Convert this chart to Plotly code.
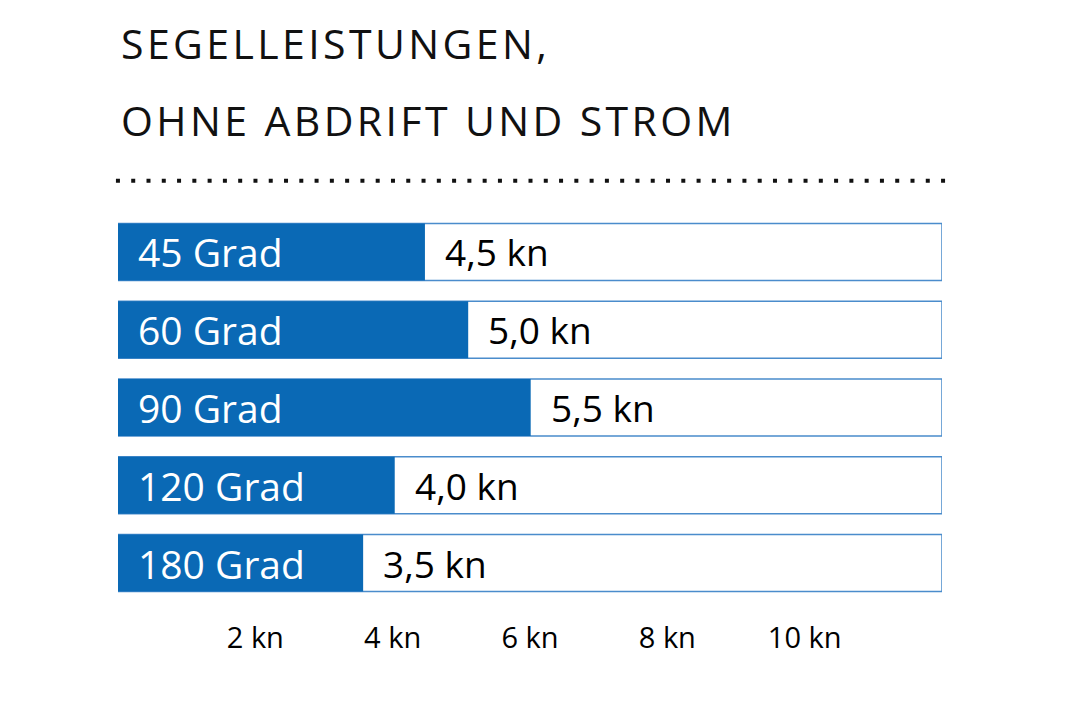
import plotly.graph_objects as go

# Daten aus der Grafik
kurse = ["45 Grad", "60 Grad", "90 Grad", "120 Grad", "180 Grad"]
balken_kn = [4.47, 5.10, 6.01, 4.03, 3.57]   # Balkenlänge wie gezeichnet
werte_text = ["4,5 kn", "5,0 kn", "5,5 kn", "4,0 kn", "3,5 kn"]
skala_max = 12
tick_werte = [2, 4, 6, 8, 10]
tick_text = ["2 kn", "4 kn", "6 kn", "8 kn", "10 kn"]

blau = "#0a69b5"
rahmen = "#4a8ccc"
schrift = "Open Sans"

fig = go.Figure()

# Rahmen (volle Skala)
fig.add_trace(go.Bar(
    y=kurse, x=[skala_max] * len(kurse), orientation="h",
    marker=dict(color="white", line=dict(color=rahmen, width=1.5)),
    hoverinfo="skip", showlegend=False,
))
# Segelleistung
fig.add_trace(go.Bar(
    y=kurse, x=balken_kn, orientation="h",
    marker=dict(color=blau, line=dict(width=0)),
    showlegend=False,
))

for k, v, t in zip(kurse, balken_kn, werte_text):
    fig.add_annotation(x=0, y=k, text=k, showarrow=False, xanchor="left",
                       xshift=18, font=dict(family=schrift, size=39, color="white"))
    fig.add_annotation(x=v, y=k, text=t, showarrow=False, xanchor="left",
                       xshift=18, font=dict(family=schrift, size=37, color="black"))

# Titel (gesperrt)
sperr = '<span style="letter-spacing:3.4px">%s</span>'
fig.add_annotation(xref="paper", yref="paper", x=0, y=1.437, xanchor="left", yanchor="middle",
                   text=sperr % "SEGELLEISTUNGEN,", showarrow=False, xshift=1,
                   font=dict(family=schrift, size=41, color="#111"))
fig.add_annotation(xref="paper", yref="paper", x=0, y=1.239, xanchor="left", yanchor="middle",
                   text=sperr % "OHNE ABDRIFT UND STROM", showarrow=False, xshift=1,
                   font=dict(family=schrift, size=41, color="#111"))

# gepunktete Linie
fig.add_shape(type="line", xref="paper", yref="paper", x0=-0.0025, x1=1.004, y0=1.083, y1=1.083,
              line=dict(color="#111", width=4, dash="4px,11.28px"))

fig.update_layout(
    width=1060, height=704,
    margin=dict(l=110, r=126, t=205, b=110),
    barmode="overlay", bargap=0.267,
    plot_bgcolor="white", paper_bgcolor="white",
    xaxis=dict(range=[0, skala_max], tickvals=tick_werte, ticktext=tick_text,
               showgrid=False, zeroline=False, showline=False, ticks="",
               ticklabelstandoff=16,
               tickfont=dict(family=schrift, size=29, color="black")),
    yaxis=dict(autorange="reversed", showticklabels=False, showgrid=False,
               zeroline=False, showline=False, ticks=""),
)

fig.write_html("out.html")
